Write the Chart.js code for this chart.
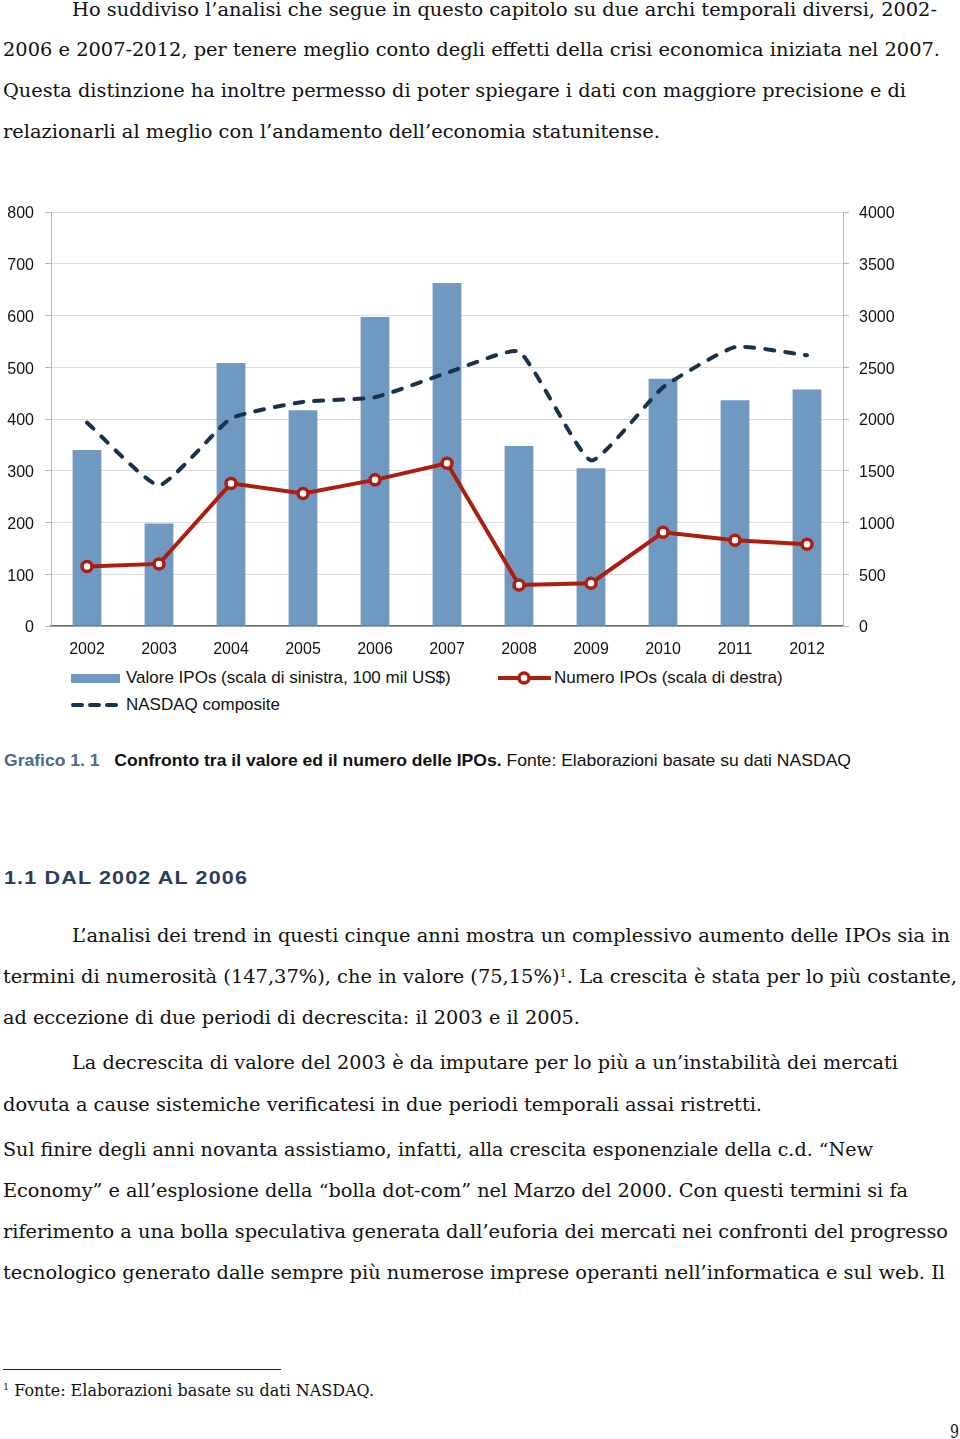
<!DOCTYPE html>
<html lang="it">
<head>
<meta charset="utf-8">
<title>Grafico 1.1 - Valore e numero delle IPOs</title>
<script src="https://cdn.jsdelivr.net/npm/chart.js@4.4.1/dist/chart.umd.min.js"></script>
<style>
  html, body { margin: 0; padding: 0; background: #fff; }
  #page { position: relative; width: 960px; height: 1439px; overflow: hidden; }
  .ln {
    position: absolute;
    white-space: nowrap;
    font-family: "DejaVu Serif", serif;
    font-size: 18px;
    line-height: 24px;
    color: #111;
    transform-origin: 0 50%;
  }
  .sans { font-family: "Liberation Sans", Arial, sans-serif; }
  #chartBox { position: absolute; left: 0; top: 190px; width: 960px; height: 470px; }
  .leg { position: absolute; font-family: "Liberation Sans", Arial, sans-serif; font-size: 17px; color: #111; line-height: 20px; white-space: nowrap; }
  .leg svg { position: absolute; }
  sup { font-size: 60%; line-height: 0; vertical-align: 0.6em; }
</style>
</head>
<body>
<div id="page">
  <div id="chartBox"><canvas id="ipoChart" width="960" height="470"></canvas></div>

  <!-- legend -->
  <div class="leg" style="left:71px; top:668px;">
    <svg width="50" height="20" style="left:0;top:0"><rect x="0" y="6" width="49" height="9" fill="#7099c2"/></svg>
    <span style="margin-left:55px">Valore IPOs (scala di sinistra, 100 mil US$)</span>
  </div>
  <div class="leg" style="left:71px; top:695px;">
    <svg width="50" height="20" style="left:0;top:0"><line x1="2" y1="10" x2="46" y2="10" stroke="#16324f" stroke-width="4" stroke-linecap="round" stroke-dasharray="9 8"/></svg>
    <span style="margin-left:55px">NASDAQ composite</span>
  </div>
  <div class="leg" style="left:498px; top:668px;">
    <svg width="56" height="20" style="left:0;top:0"><line x1="0" y1="10" x2="53" y2="10" stroke="#ab1e10" stroke-width="4"/><circle cx="26" cy="10" r="5" fill="#fff" stroke="#ab1e10" stroke-width="3.5"/></svg>
    <span style="margin-left:56px">Numero IPOs (scala di destra)</span>
  </div>
</div>

<script>
// Chart data
const years = ["2002", "2003", "2004", "2005", "2006", "2007", "2008", "2009", "2010", "2011", "2012"];
const ipoValue = [340, 198, 508, 417, 597, 663, 348, 305, 478, 436, 457];       // left scale
const ipoCount = [575, 600, 1378, 1280, 1412, 1573, 396, 413, 905, 828, 790];   // right scale
const nasdaq = [1965, 1360, 2005, 2165, 2210, 2445, 2650, 1600, 2305, 2695, 2615]; // right scale
const leftTicks = [0, 100, 200, 300, 400, 500, 600, 700, 800];
const rightTicks = [0, 500, 1000, 1500, 2000, 2500, 3000, 3500, 4000];

// Page text, one entry per printed line: [text, left, right, centerY]
const bodyLines = [
  ["Ho suddiviso l\u2019analisi che segue in questo capitolo su due archi temporali diversi, 2002-", 72, 937, 10],
  ["2006 e 2007-2012, per tenere meglio conto degli effetti della crisi economica iniziata nel 2007.", 3, 940, 50],
  ["Questa distinzione ha inoltre permesso di poter spiegare i dati con maggiore precisione e di", 3, 906, 91],
  ["relazionarli al meglio con l\u2019andamento dell\u2019economia statunitense.", 3, 660, 132],
  ["L\u2019analisi dei trend in questi cinque anni mostra un complessivo aumento delle IPOs sia in", 72, 950, 936],
  ["termini di numerosit\u00e0 (147,37%), che in valore (75,15%)<sup>1</sup>. La crescita \u00e8 stata per lo pi\u00f9 costante,", 3, 957, 977],
  ["ad eccezione di due periodi di decrescita: il 2003 e il 2005.", 3, 580, 1018],
  ["La decrescita di valore del 2003 \u00e8 da imputare per lo pi\u00f9 a un\u2019instabilit\u00e0 dei mercati", 72, 898, 1063],
  ["dovuta a cause sistemiche verificatesi in due periodi temporali assai ristretti.", 3, 762, 1105],
  ["Sul finire degli anni novanta assistiamo, infatti, alla crescita esponenziale della c.d. \u201cNew", 3, 873, 1150],
  ["Economy\u201d e all\u2019esplosione della \u201cbolla dot-com\u201d nel Marzo del 2000. Con questi termini si fa", 3, 908, 1191],
  ["riferimento a una bolla speculativa generata dall\u2019euforia dei mercati nei confronti del progresso", 3, 948, 1232],
  ["tecnologico generato dalle sempre pi\u00f9 numerose imprese operanti nell\u2019informatica e sul web. Il", 3, 945, 1273],
];

const page = document.getElementById("page");

function addLine(html, left, right, cy, extraClass, style) {
  const el = document.createElement("span");
  el.className = "ln" + (extraClass ? " " + extraClass : "");
  el.innerHTML = html;
  el.style.left = left + "px";
  el.style.top = (cy - 12) + "px";
  if (style) Object.assign(el.style, style);
  page.appendChild(el);
  // stretch or squeeze the line to the printed width
  const w = el.getBoundingClientRect().width;
  if (right && w > 0) el.style.transform = "scaleX(" + ((right - left) / w) + ")";
  return el;
}

bodyLines.forEach((l) => addLine(l[0], l[1], l[2], l[3]));

// caption
addLine(
  '<span style="color:#4a6891;font-weight:bold">Grafico 1. 1</span>&nbsp;&nbsp;&nbsp;' +
  '<b>Confronto tra il valore ed il numero delle IPOs.</b> Fonte: Elaborazioni basate su dati NASDAQ',
  4, 851, 761, "sans", { fontSize: "17px" }
);

// section heading
addLine("1.1 DAL 2002 AL 2006", 4, 248, 878, "sans",
  { fontSize: "19px", fontWeight: "bold", color: "#2c3d5a", letterSpacing: "1px" });

// footnote rule and note
const rule = document.createElement("div");
Object.assign(rule.style, { position: "absolute", left: "3px", top: "1369px", width: "278px", height: "1px", background: "#222" });
page.appendChild(rule);
addLine("<sup>1</sup> Fonte: Elaborazioni basate su dati NASDAQ.", 3, 374, 1391, "", { fontSize: "16px" });

// page number
addLine("9", 950, 959, 1432);

// Chart
const axisFont = { family: "'Liberation Sans', Arial, sans-serif", size: 16 };
const plainNumber = (v) => String(v);

new Chart(document.getElementById("ipoChart"), {
  type: "bar",
  data: {
    labels: years,
    datasets: [
      {
        type: "line",
        label: "Numero IPOs (scala di destra)",
        data: ipoCount,
        yAxisID: "yRight",
        borderColor: "#ab1e10",
        borderWidth: 4,
        pointRadius: 5,
        pointHoverRadius: 5,
        pointBorderWidth: 3.5,
        pointBackgroundColor: "#ffffff",
        pointBorderColor: "#ab1e10",
        tension: 0,
        order: 1,
      },
      {
        type: "line",
        label: "NASDAQ composite",
        data: nasdaq,
        yAxisID: "yRight",
        borderColor: "#16324f",
        borderWidth: 4,
        borderDash: [9, 11],
        borderCapStyle: "round",
        pointRadius: 0,
        tension: 0.15,
        order: 2,
      },
      {
        label: "Valore IPOs (scala di sinistra, 100 mil US$)",
        data: ipoValue,
        yAxisID: "yLeft",
        backgroundColor: "#7099c2",
        categoryPercentage: 1,
        barPercentage: 0.4,
        order: 3,
      },
    ],
  },
  options: {
    responsive: false,
    animation: false,
    layout: { padding: { top: 22, left: 0, right: 0, bottom: 0 } },
    plugins: {
      legend: { display: false },
      tooltip: { enabled: false },
    },
    scales: {
      x: {
        offset: true,
        grid: { display: false, drawTicks: false },
        border: { display: true, color: "#5a6b83", width: 1.5 },
        ticks: { font: axisFont, color: "#111", padding: 14, maxRotation: 0, autoSkip: false },
        afterFit: (scale) => { scale.height = 34; },
      },
      yLeft: {
        position: "left",
        min: leftTicks[0],
        max: leftTicks[leftTicks.length - 1],
        afterBuildTicks: (scale) => { scale.ticks = leftTicks.map((v) => ({ value: v })); },
        grid: { color: "#dcdcdc", tickLength: 6, tickColor: "#b8b8b8" },
        border: { color: "#b8b8b8", width: 1 },
        ticks: { font: axisFont, color: "#111", padding: 11, labelOffset: 2, callback: plainNumber },
        afterFit: (scale) => { scale.width = 51; },
      },
      yRight: {
        position: "right",
        min: rightTicks[0],
        max: rightTicks[rightTicks.length - 1],
        afterBuildTicks: (scale) => { scale.ticks = rightTicks.map((v) => ({ value: v })); },
        grid: { drawOnChartArea: false, tickLength: 6, tickColor: "#b8b8b8" },
        border: { color: "#b8b8b8", width: 1 },
        ticks: { font: axisFont, color: "#111", padding: 10, labelOffset: 2, callback: plainNumber },
        afterFit: (scale) => { scale.width = 117; },
      },
    },
  },
});
</script>
</body>
</html>
